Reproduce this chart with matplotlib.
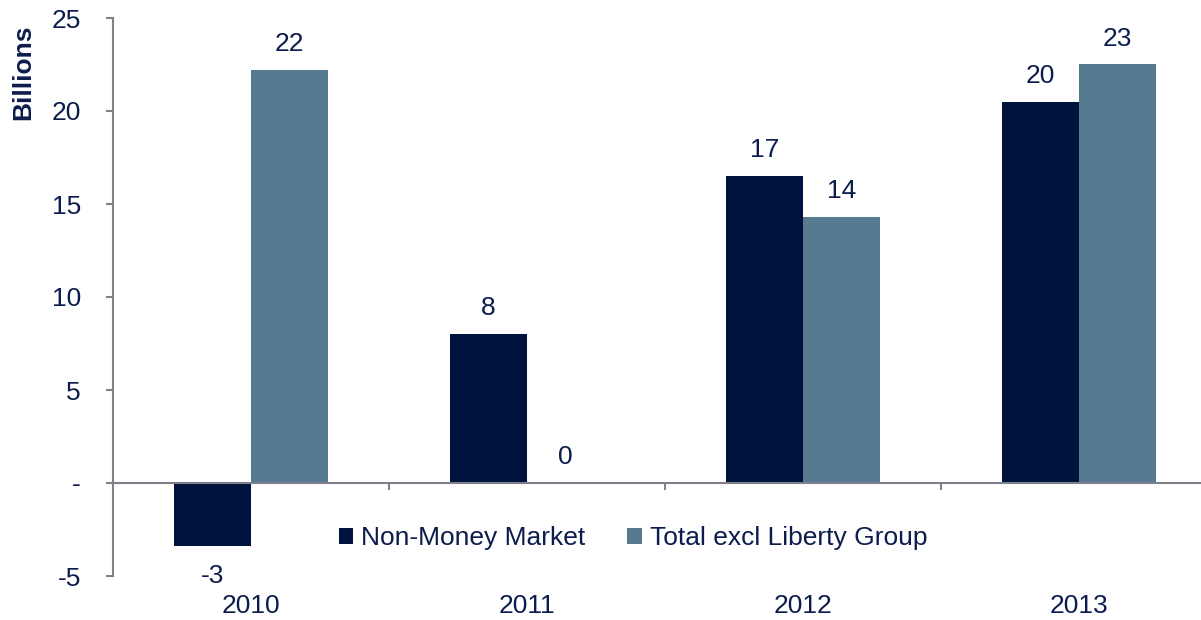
import matplotlib
matplotlib.use("Agg")
import matplotlib.pyplot as plt
import numpy as np

categories = ["2010", "2011", "2012", "2013"]
non_money = [-3.4, 8.0, 16.5, 20.5]
total_excl = [22.2, 0.0, 14.3, 22.5]
non_money_labels = ["-3", "8", "17", "20"]
total_labels = ["22", "0", "14", "23"]
yticks = [-5, 0, 5, 10, 15, 20, 25]
ytick_labels = ["-5", "-", "5", "10", "15", "20", "25"]

plt.rcParams['font.family'] = ['Liberation Sans', 'DejaVu Sans']
TXT = "#0c1c4c"
C1 = "#00133f"
C2 = "#567b91"
AX = "#80808c"
FS = 19

fig = plt.figure(figsize=(12.01, 6.2), dpi=100)
ax = fig.add_axes([113/1201, 1 - 576/620, 1104/1201, 558/620])

x = np.arange(len(categories))
w = 0.28
ax.bar(x - w/2, non_money, w, color=C1, label="Non-Money Market", zorder=2)
ax.bar(x + w/2, total_excl, w, color=C2, label="Total excl Liberty Group", zorder=2)

ax.set_xlim(-0.5, 3.5)
ax.set_ylim(-5, 25)

for xi, v, lab in zip(x, non_money, non_money_labels):
    if v >= 0:
        ax.annotate(lab, (xi - w/2, v), xytext=(0, 10), textcoords="offset points",
                    ha="center", va="bottom", fontsize=FS, color=TXT)
    else:
        ax.annotate(lab, (xi - w/2, v), xytext=(0, -13), textcoords="offset points",
                    ha="center", va="top", fontsize=FS, color=TXT)
for xi, v, lab in zip(x, total_excl, total_labels):
    ax.annotate(lab, (xi + w/2, v), xytext=(0, 10), textcoords="offset points",
                ha="center", va="bottom", fontsize=FS, color=TXT)

for s in ["top", "right"]:
    ax.spines[s].set_visible(False)
ax.spines["bottom"].set_position(("data", 0))
ax.spines["bottom"].set_color(AX)
ax.spines["left"].set_color(AX)
ax.spines["bottom"].set_linewidth(1.5)
ax.spines["left"].set_linewidth(1.5)
ax.spines["bottom"].set_zorder(3)

ax.set_yticks(yticks)
ax.set_yticklabels(ytick_labels)
ax.tick_params(axis="y", direction="out", length=5, width=1.5, color=AX,
               labelsize=FS, labelcolor=TXT, pad=18)
ax.set_xticks([0.5, 1.5, 2.5])
ax.set_xticklabels([])
ax.tick_params(axis="x", direction="out", length=5, width=1.5, color=AX)

for xi, c in zip(x, categories):
    ax.text(xi, -(606 - 576) / 558, c, transform=ax.get_xaxis_transform(),
            ha="center", va="center", fontsize=FS, color=TXT)

fig.text(23/1201, 1 - 72/620, "Billions", rotation=90, ha="center", va="center",
         fontsize=FS, fontweight="bold", color=TXT)

leg = ax.legend(loc="center", bbox_to_anchor=(633/1201, 1 - 538/620),
                bbox_transform=fig.transFigure, ncol=2, frameon=False,
                fontsize=FS, handlelength=0.55, handleheight=0.55,
                handletextpad=0.3, columnspacing=1.6, labelcolor=TXT)

fig.savefig("out.png", dpi=100)
